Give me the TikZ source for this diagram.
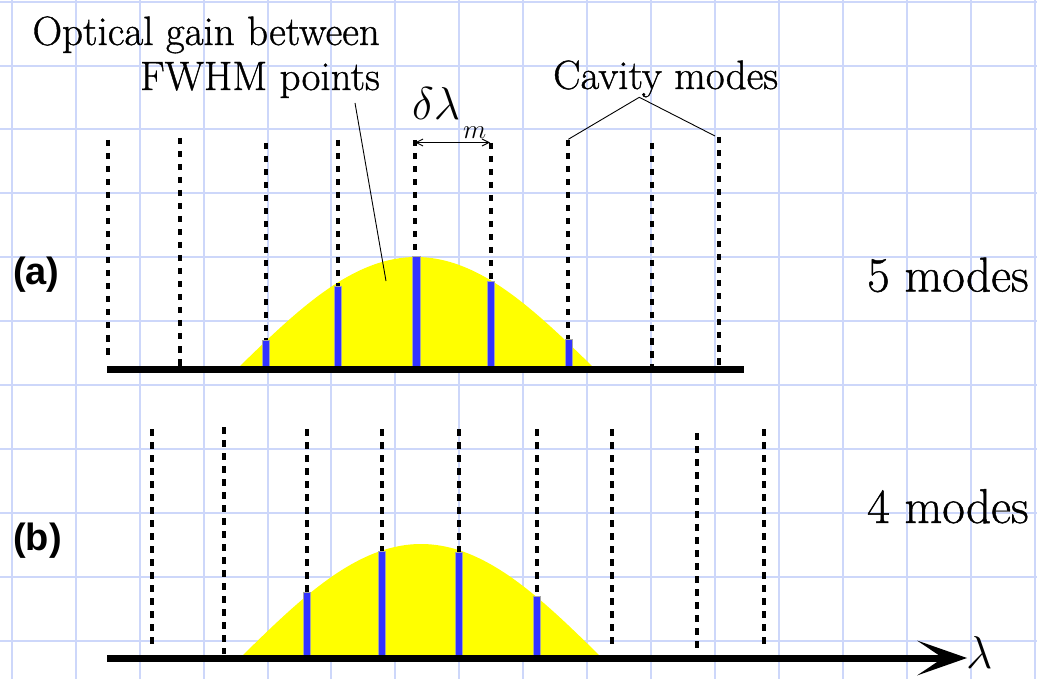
\RequirePackage{fix-cm}
\documentclass[tikz,border=0pt]{standalone}
\usepackage{fontspec}
\setmainfont{Latin Modern Roman}[FakeBold=0.9]
\newfontfamily\labfont{Liberation Sans}
\usetikzlibrary{arrows.meta}
\definecolor{gridc}{RGB}{205,215,250}
\definecolor{gainy}{RGB}{255,255,0}
\definecolor{modeb}{RGB}{51,51,255}
\tikzset{
  gridline/.style={draw=gridc, line width=2pt},
  modeline/.style={line width=4pt, dash pattern=on 6.5pt off 6.5pt},
  modebar/.style={fill=modeb, draw=gray!70, line width=0.5pt},
  axisline/.style={line width=7pt},
  leader/.style={line width=0.9pt},
  lbl/.style={inner sep=0pt, font=\rmfamily\fontsize{41}{41}\selectfont},
  modelbl/.style={inner sep=0pt, font=\rmfamily\fontsize{49}{49}\selectfont},
  panellbl/.style={inner sep=0pt, font=\labfont\bfseries\fontsize{38}{38}\selectfont},
  greeklbl/.style={inner sep=0pt, font=\fontsize{46}{46}\selectfont},
  sublbl/.style={inner sep=0pt, font=\fontsize{27}{27}\selectfont}
}
\begin{document}
\begin{tikzpicture}[x=1pt,y=-1pt]
\useasboundingbox (0,0) rectangle (1037,679);
\fill[white] (0,0) rectangle (1037,679);
% grid
\foreach \k in {0,...,16} {\draw[gridline] ({11.7+63.95*\k},0) -- ({11.7+63.95*\k},679);}
\foreach \k in {0,...,10} {\draw[gridline] (0,{1.7+63.9*\k}) -- (1037,{1.7+63.9*\k});}
% gain curves
\fill[gainy] plot[domain=-1:1, samples=80] ({416+176*\x},{366-109*cos(90*\x)}) -- cycle;
\fill[gainy] plot[domain=-1:1, samples=80] ({421+178*\x},{655-111*cos(90*\x)}) -- cycle;
% cavity modes (a)
\foreach \x/\t/\b [count=\i] in {107.7/140/358,180/138/366,265.5/143/366,337.5/140/366,415/140/366,491/143/366,568/140/366,652.3/143/366,719/137/366} {
  \coordinate (ta\i) at (\x,\t);
  \coordinate (ba\i) at (\x,\b);
  \draw[modeline] (ta\i) -- (ba\i);
}
% cavity modes (b)
\foreach \x/\t/\b [count=\i] in {152.3/429/647,224.3/427/654,307/429/654,381.7/429/654,459/429/654,537/429/654,612.3/429/647,696.7/433/652,764/429/647} {
  \coordinate (tb\i) at (\x,\t);
  \coordinate (bb\i) at (\x,\b);
  \draw[modeline] (tb\i) -- (bb\i);
}
% lasing modes (a)
\foreach \x/\t in {265.5/340,337.5/286,416.3/256.7,491/281,568.6/339} {
  \filldraw[modebar] ({\x-3.7},366) rectangle ({\x+3.7},\t);
}
% lasing modes (b)
\foreach \x/\t in {307/592,381.7/551.5,459/552,537/596} {
  \filldraw[modebar] ({\x-3.7},655) rectangle ({\x+3.7},\t);
}
% baselines
\coordinate (a0) at (107,369.5);
\coordinate (a1) at (744,369.5);
\draw[axisline] (a0) -- (a1);
\coordinate (b0) at (107,658);
\coordinate (b1) at (967,658);
\draw[axisline, -{Stealth[length=50pt,width=35pt,inset=26pt,line width=0pt]}] (b0) -- (b1);
\node[greeklbl, anchor=base west] (lam) at (966,668) {$\lambda$};
% delta lambda
\coordinate (dl1) at (415,142.5);
\coordinate (dl2) at (490,142.5);
\draw[line width=0.9pt, {Straight Barb[length=7pt,width=7pt]}-{Straight Barb[length=7pt,width=7pt]}] (dl1) -- (dl2);
\node[greeklbl, anchor=base west] (dlam) at (412,120) {$\delta\lambda$};
\node[sublbl, anchor=base west] (dsub) at (463,139) {$m$};
% labels
\node[lbl, anchor=base east] (opt1) at (380,45) {Optical gain between};
\node[lbl, anchor=base east] (opt2) at (380,90) {FWHM points};
\coordinate (optA) at (355,103);
\coordinate (optB) at (386,281);
\draw[leader] (optA) -- (optB);
\node[lbl, anchor=base west] (cav) at (553,89) {Cavity modes};
\coordinate (cavA) at (639.3,97.3);
\coordinate (cavL) at (568.3,139.3);
\coordinate (cavR) at (715,136);
\draw[leader] (cavL) -- (cavA) -- (cavR);
\node[modelbl, anchor=base west] (m5) at (867,291.5) {5 modes};
\node[modelbl, anchor=base west] (m4) at (867,523) {4 modes};
\node[panellbl, anchor=base west] (pa) at (13,285) {(a)};
\node[panellbl, anchor=base west] (pb) at (13,550) {(b)};
\end{tikzpicture}
\end{document}
